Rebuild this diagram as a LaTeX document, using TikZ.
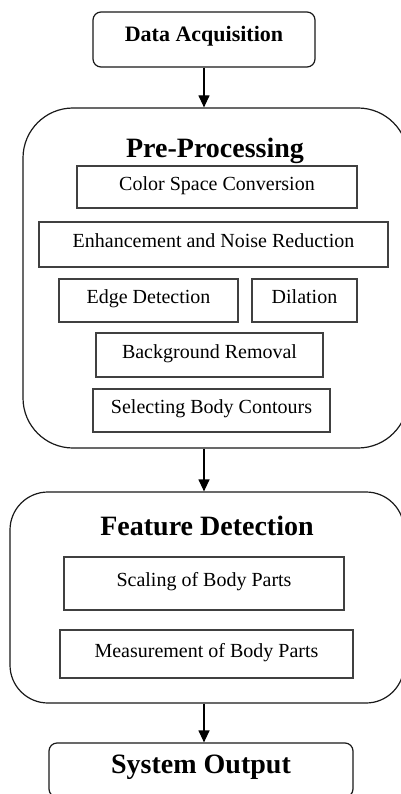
\documentclass[tikz,border=0pt]{standalone}
\usepackage{fontspec}
\setmainfont{Liberation Serif}
\usetikzlibrary{arrows.meta}

\begin{document}
\begin{tikzpicture}[x=1pt,y=-1pt,
    outerbox/.style={draw=black!90,line width=1.2pt,inner sep=0pt},
    innerbox/.style={draw=black!75,line width=1.4pt,inner sep=0pt,
        font=\fontsize{20}{24}\selectfont,text height=0.66em,text depth=0pt},
    titletext/.style={font=\bfseries\fontsize{28}{32}\selectfont,anchor=base},
    flow/.style={line width=1.2pt,-{Triangle[width=11pt,length=12pt]}}]
            \useasboundingbox (0,0) rectangle (401,794);
            \clip (0,0) rectangle (401,794);

            \node[outerbox,rounded corners=8pt,minimum width=222pt,minimum height=55pt,
                font=\bfseries\fontsize{22}{26}\selectfont,text height=0.66em,text depth=0.35em]
                (acq) at (204,39.5) {Data Acquisition};

            \node[outerbox,rounded corners=50pt,minimum width=385pt,minimum height=340pt] (pre) at (215.5,278) {};
            \node[titletext] (pretitle) at (215,158) {Pre-Processing};
            \node[innerbox,minimum width=280pt,minimum height=42pt] (csc) at (217,187) {Color Space Conversion};
            \node[innerbox,minimum width=349pt,minimum height=45pt] (enh) at (213.5,244.5) {Enhancement and Noise Reduction};
            \node[innerbox,minimum width=179pt,minimum height=43pt] (edge) at (148.5,300.5) {Edge Detection};
            \node[innerbox,minimum width=105pt,minimum height=43pt] (dil) at (304.5,300.5) {Dilation};
            \node[innerbox,minimum width=227pt,minimum height=44pt] (bgr) at (209.5,355) {Background Removal};
            \node[innerbox,minimum width=237pt,minimum height=43pt] (sbc) at (211.5,410.5) {Selecting Body Contours};

            \node[outerbox,rounded corners=38pt,minimum width=394pt,minimum height=211pt] (feat) at (207,597.5) {};
            \node[titletext] (feattitle) at (207,535) {Feature Detection};
            \node[innerbox,minimum width=280pt,minimum height=53pt] (scl) at (204,583.5) {Scaling of Body Parts};
            \node[innerbox,minimum width=293pt,minimum height=48pt] (meas) at (206.5,654) {Measurement of Body Parts};

            \node[outerbox,rounded corners=8pt,minimum width=304pt,minimum height=54pt,
                font=\bfseries\fontsize{28}{32}\selectfont,text height=0.66em,text depth=0pt]
                (out) at (201,770) {System Output};

            \draw[flow] (acq.south) -- (acq.south |- pre.north);
            \draw[flow] (acq.south |- pre.south) -- (acq.south |- feat.north);
            \draw[flow] (acq.south |- feat.south) -- (acq.south |- out.north);
        \end{tikzpicture}
\end{document}
